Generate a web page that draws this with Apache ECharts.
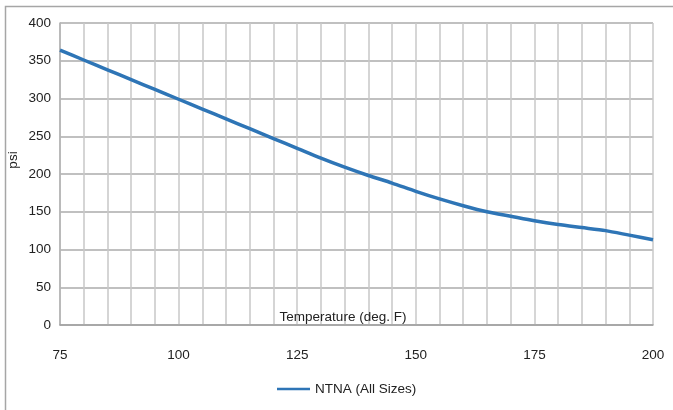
<!DOCTYPE html>
<html>
<head>
<meta charset="utf-8">
<script src="https://cdn.jsdelivr.net/npm/echarts@6/dist/echarts.min.js"></script>
<style>html,body{margin:0;padding:0;background:#fff;}#c{width:673px;height:410px;}</style>
</head>
<body>
<div id="c"></div>
<script>
const temperatures = [75,80,85,90,95,100,105,110,115,120,125,130,135,140,145,150,155,160,165,170,175,180,185,190,195,200];
const psiValues    = [364,351,338,325,312,299,286,273,260,247,234,221,209,198,188,177,167,158,150,144,138,133,129,125,119,113];
const seriesName = 'NTNA (All Sizes)';
const xTitle = 'Temperature (deg. F)';
const yTitle = 'psi';

const FONT = "'Liberation Sans Narrow','Arial Narrow','Liberation Sans',Arial,sans-serif";
const FS = 13.5;
const chart = echarts.init(document.getElementById('c'), null, {renderer:'canvas'});
chart.setOption({
  animation:false,
  backgroundColor:'#fff',
  graphic:[{type:'rect',shape:{x:5.5,y:6.5,width:720,height:440},style:{fill:'none',stroke:'#a6a6a6',lineWidth:1.5},silent:true}],
  grid:{left:60,right:20,top:23,bottom:85,containLabel:false,outerBoundsMode:'none'},
  legend:{left:277,top:382,padding:0,itemWidth:33,itemHeight:14,itemGap:10,icon:'path://M0,6 L33,6 L33,8.5 L0,8.5 Z',
    textStyle:{fontFamily:FONT,fontSize:FS,color:'#222'},data:[seriesName]},
  xAxis:{type:'value',min:75,max:200,interval:25,
    name:xTitle,nameLocation:'middle',nameGap:-8,nameMoveOverlap:false,
    nameTextStyle:{fontFamily:FONT,fontSize:FS,color:'#222',verticalAlign:'middle',padding:[0,27,0,0]},
    axisLine:{show:true,lineStyle:{color:'#a0a0a0',width:1.5}},
    axisTick:{show:false},
    axisLabel:{margin:23,fontFamily:FONT,fontSize:FS,color:'#222'},
    splitLine:{show:true,lineStyle:{color:'#c8c8c8',width:1.5}},
    minorTick:{show:false,splitNumber:5},
    minorSplitLine:{show:true,lineStyle:{color:'#c8c8c8',width:1.5}}
  },
  yAxis:{type:'value',min:0,max:400,interval:50,
    name:yTitle,nameLocation:'middle',nameGap:40,nameRotate:90,nameMoveOverlap:false,
    nameTextStyle:{fontFamily:FONT,fontSize:FS,color:'#222',padding:[0,0,0,28]},
    axisLine:{show:true,lineStyle:{color:'#b0b0b0',width:1.5}},
    axisTick:{show:false},
    axisLabel:{margin:9,fontFamily:FONT,fontSize:FS,color:'#222'},
    splitLine:{show:true,lineStyle:{color:'#ababab',width:1.5}}
  },
  series:[{name:seriesName,type:'line',data:temperatures.map((t,i)=>[t,psiValues[i]]),
    smooth:0.25,symbol:'none',lineStyle:{color:'#2E75B6',width:3.5},itemStyle:{color:'#2E75B6'}}]
});
</script>
</body>
</html>
